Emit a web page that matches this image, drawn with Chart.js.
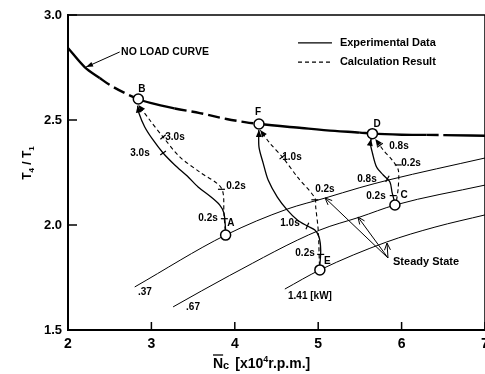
<!DOCTYPE html>
<html>
<head>
<meta charset="utf-8">
<script src="https://cdn.jsdelivr.net/npm/chart.js@4.4.1/dist/chart.umd.min.js"></script>
<style>
  html, body { margin: 0; padding: 0; background: #fff; overflow: hidden; }
  #wrap { width: 500px; height: 374px; }
</style>
</head>
<body>
<div id="wrap"><canvas id="chart" width="500" height="374"></canvas></div>
<script>
'use strict';

/* ── Data ───────────────────────────────────────────────────────── */
const xTicks = [2, 3, 4, 5, 6, 7];
const yTicks = [1.5, 2.0, 2.5, 3.0];

// no load curve
const noLoadX = [2.0, 2.2, 2.38, 2.5, 2.84, 3.0, 3.28, 3.58, 3.9, 4.12, 4.29, 4.8, 5.2, 5.5, 5.65, 6.0, 6.3, 6.5, 7.0];
const noLoadY = [2.843, 2.752, 2.70, 2.667, 2.60, 2.58, 2.555, 2.533, 2.505, 2.49, 2.481, 2.462, 2.448, 2.44, 2.435, 2.43, 2.429, 2.428, 2.425];

// steady state lines (load in kW)
const s37X = [2.80, 3.89, 4.63, 5.08, 5.50, 5.84, 7.0];
const s37Y = [1.705, 1.952, 2.076, 2.128, 2.178, 2.214, 2.319];
const s67X = [3.26, 3.94, 5.02, 5.50, 5.92, 7.0];
const s67Y = [1.610, 1.760, 1.976, 2.038, 2.095, 2.19];
const s141X = [4.60, 5.02, 5.82, 6.4, 7.0];
const s141Y = [1.695, 1.786, 1.919, 1.99, 2.048];

// operating points
const ptNames = ['A', 'B', 'C', 'D', 'E', 'F'];
const ptX = [3.89, 2.843, 5.92, 5.65, 5.02, 4.29];
const ptY = [1.952, 2.60, 2.095, 2.435, 1.786, 2.481];

// transients : experimental (solid) and calculation (dashed)
const abExpX  = [3.89, 3.87, 3.82, 3.70, 3.56, 3.43, 3.28, 3.14, 3.02, 2.92, 2.85, 2.835];
const abExpY  = [1.975, 2.057, 2.095, 2.138, 2.181, 2.233, 2.286, 2.343, 2.405, 2.467, 2.533, 2.568];
const abCalcX = [3.885, 3.87, 3.84, 3.58, 3.34, 3.14, 2.98, 2.845];
const abCalcY = [1.975, 2.05, 2.175, 2.252, 2.324, 2.419, 2.50, 2.572];

const efExpX  = [5.02, 5.03, 5.01, 4.96, 4.87, 4.75, 4.63, 4.51, 4.40, 4.34, 4.29, 4.288];
const efExpY  = [1.808, 1.881, 1.943, 1.976, 1.995, 2.024, 2.071, 2.133, 2.214, 2.295, 2.371, 2.452];
const efCalcX = [5.015, 5.0, 4.97, 4.96, 4.75, 4.57, 4.42, 4.305];
const efCalcY = [1.808, 1.976, 2.086, 2.129, 2.229, 2.324, 2.39, 2.452];

const cdExpX  = [5.91, 5.885, 5.86, 5.78, 5.70, 5.65, 5.625, 5.635];
const cdExpY  = [2.118, 2.157, 2.205, 2.238, 2.276, 2.343, 2.39, 2.41];
const cdCalcX = [5.94, 5.96, 5.96, 5.885, 5.78, 5.685];
const cdCalcY = [2.118, 2.18, 2.262, 2.31, 2.357, 2.41];

// time marks on the transients
const markX   = [3.875, 3.84, 3.14, 3.14, 5.03, 4.87, 4.96, 4.57, 5.90, 5.83, 5.96, 5.74];
const markY   = [2.03, 2.17, 2.343, 2.419, 1.86, 1.995, 2.12, 2.324, 2.14, 2.22, 2.286, 2.38];
const markRot = [0, 0, -36, -40, 0, -66, 0, -38, 0, -60, 0, -35];

/* ── Annotation text (data coords) ──────────────────────────────── */
const FONT = "'Liberation Sans', Arial, sans-serif";
const notes = [
  { t: 'B', x: 2.887, y: 2.648, a: 'center' },
  { t: 'F', x: 4.278, y: 2.538, a: 'center' },
  { t: 'D', x: 5.705, y: 2.481, a: 'center' },
  { t: 'A', x: 3.954, y: 2.01,  a: 'center' },
  { t: 'C', x: 6.03,  y: 2.143, a: 'center' },
  { t: 'E', x: 5.11,  y: 1.826, a: 'center' },
  { t: '3.0s', x: 3.283, y: 2.419, a: 'center' },
  { t: '3.0s', x: 2.863, y: 2.343, a: 'center' },
  { t: '0.2s', x: 4.014, y: 2.186, a: 'center' },
  { t: '0.2s', x: 3.679, y: 2.033, a: 'center' },
  { t: '1.0s', x: 4.686, y: 2.324, a: 'center' },
  { t: '0.2s', x: 5.08,  y: 2.171, a: 'center' },
  { t: '1.0s', x: 4.662, y: 2.01,  a: 'center' },
  { t: '0.2s', x: 4.842, y: 1.867, a: 'center' },
  { t: '0.8s', x: 5.969, y: 2.376, a: 'center' },
  { t: '0.2s', x: 6.113, y: 2.295, a: 'center' },
  { t: '0.8s', x: 5.585, y: 2.219, a: 'center' },
  { t: '0.2s', x: 5.693, y: 2.138, a: 'center' },
  { t: '.37',  x: 2.923, y: 1.681, a: 'center' },
  { t: '.67',  x: 3.499, y: 1.61,  a: 'center' },
  { t: '1.41 [kW]', x: 4.638, y: 1.662, a: 'left' },
];

/* ── Helpers ────────────────────────────────────────────────────── */
const pts = (xs, ys) => xs.map((v, i) => ({ x: v, y: ys[i] }));
const noLoadDashed = [[2.38, 2.84], [3.28, 4.29], [5.5, 5.65], [6.3, 6.5]];

function curve(xs, ys, dashed, arrow) {
  return {
    data: pts(xs, ys), showLine: true, pointRadius: 0, borderColor: '#000',
    borderWidth: dashed ? 1.1 : 1.3, borderDash: dashed ? [4, 3] : [],
    tension: 0.3, order: 2, arrow: arrow,
  };
}
function steady(xs, ys) {
  return {
    data: pts(xs, ys), showLine: true, pointRadius: 0, borderColor: '#000',
    borderWidth: 1, cubicInterpolationMode: 'monotone', order: 3,
  };
}

function arrowHead(ctx, x0, y0, x1, y1, len, wid, filled) {
  const ang = Math.atan2(y1 - y0, x1 - x0);
  const bx = x1 - len * Math.cos(ang), by = y1 - len * Math.sin(ang);
  const nx = -Math.sin(ang) * wid, ny = Math.cos(ang) * wid;
  ctx.beginPath();
  ctx.moveTo(bx + nx, by + ny);
  ctx.lineTo(x1, y1);
  ctx.lineTo(bx - nx, by - ny);
  if (filled) { ctx.closePath(); ctx.fill(); } else ctx.stroke();
}

function pieces(ctx, x, y, parts) {
  // parts: [text, size, dy]
  parts.forEach(([t, size, dy]) => {
    ctx.font = `bold ${size}px ${FONT}`;
    ctx.fillText(t, x, y + dy);
    x += ctx.measureText(t).width;
  });
  return x;
}

/* ── Overlay plugin: frame, inward ticks, arrows, text ──────────── */
const overlay = {
  id: 'overlay',
  beforeDatasetsDraw(chart) {
    const { ctx, chartArea: a, scales: { x, y } } = chart;
    ctx.save();
    ctx.strokeStyle = '#000';
    ctx.lineWidth = 1.5;
    ctx.beginPath();
    ctx.moveTo(a.left, a.top); ctx.lineTo(a.right, a.top); ctx.lineTo(a.right, a.bottom);
    ctx.stroke();
    xTicks.forEach(v => {
      const px = x.getPixelForValue(v);
      ctx.beginPath(); ctx.moveTo(px, a.bottom); ctx.lineTo(px, a.bottom - 8); ctx.stroke();
    });
    yTicks.forEach(v => {
      const py = y.getPixelForValue(v);
      ctx.beginPath(); ctx.moveTo(a.left, py); ctx.lineTo(a.left + 9, py); ctx.stroke();
    });
    ctx.restore();
  },
  afterDatasetsDraw(chart) {
    const { ctx, scales: { x, y } } = chart;
    const X = v => x.getPixelForValue(v), Y = v => y.getPixelForValue(v);
    ctx.save();
    ctx.fillStyle = '#000';
    ctx.strokeStyle = '#000';

    // arrowheads at the end of the transients
    chart.data.datasets.forEach((ds, i) => {
      if (!ds.arrow) return;
      const els = chart.getDatasetMeta(i).data;
      const last = els[els.length - 1];
      const prev = els[els.length - 2];
      const fx = last.cp1x !== undefined ? last.cp1x : prev.x;
      const fy = last.cp1y !== undefined ? last.cp1y : prev.y;
      arrowHead(ctx, fx, fy, last.x, last.y, 7, 3, true);
    });

    // steady state pointers
    ctx.lineWidth = 1;
    const apex = { x: 5.837, y: 1.843 };
    [[5.082, 2.129], [5.477, 2.038], [5.825, 1.914]].forEach(([tx, ty]) => {
      ctx.beginPath(); ctx.moveTo(X(apex.x), Y(apex.y)); ctx.lineTo(X(tx), Y(ty)); ctx.stroke();
      arrowHead(ctx, X(apex.x), Y(apex.y), X(tx), Y(ty), 7, 3, false);
    });
    ctx.font = `bold 11px ${FONT}`;
    ctx.textBaseline = 'middle';
    ctx.textAlign = 'left';
    ctx.fillText('Steady State', X(5.897), Y(1.824));

    // no load curve pointer
    ctx.beginPath(); ctx.moveTo(X(2.62), Y(2.824)); ctx.lineTo(X(2.216), Y(2.752)); ctx.stroke();
    arrowHead(ctx, X(2.62), Y(2.824), X(2.216), Y(2.752), 7, 2.5, true);
    ctx.font = `bold 10.5px ${FONT}`;
    ctx.fillText('NO LOAD CURVE', X(2.636), Y(2.824));

    // legend
    ctx.lineWidth = 1.2;
    ctx.beginPath(); ctx.moveTo(X(4.758), Y(2.867)); ctx.lineTo(X(5.165), Y(2.867)); ctx.stroke();
    ctx.setLineDash([4, 3]);
    ctx.beginPath(); ctx.moveTo(X(4.758), Y(2.776)); ctx.lineTo(X(5.165), Y(2.776)); ctx.stroke();
    ctx.setLineDash([]);
    ctx.font = `bold 11px ${FONT}`;
    ctx.fillText('Experimental Data', X(5.26), Y(2.867));
    ctx.fillText('Calculation Result', X(5.26), Y(2.776));

    // point names and time labels
    ctx.font = `bold 10px ${FONT}`;
    notes.forEach(n => {
      ctx.textAlign = n.a;
      ctx.fillText(n.t, X(n.x), Y(n.y));
    });

    // axis titles
    ctx.textAlign = 'left';
    ctx.textBaseline = 'alphabetic';
    const bx = 213, by = 368;
    const endN = pieces(ctx, bx, by, [['N', 14, 0]]);
    ctx.lineWidth = 1.3;
    ctx.beginPath(); ctx.moveTo(bx, by - 13); ctx.lineTo(endN, by - 13); ctx.stroke();
    const endC = pieces(ctx, endN, by, [['c', 11, 1]]);
    pieces(ctx, endC + 6, by, [['[x10', 14, 0], ['4', 9, -6], ['r.p.m.]', 14, 0]]);

    ctx.translate(27, 163);
    ctx.rotate(-Math.PI / 2);
    const parts = [['T', 12, 0], ['4', 8, 3], [' / ', 12, 0], ['T', 12, 0], ['1', 8, 3]];
    let w = 0;
    parts.forEach(([t, s]) => { ctx.font = `bold ${s}px ${FONT}`; w += ctx.measureText(t).width; });
    pieces(ctx, -w / 2, 4, parts);
    ctx.restore();
  }
};

/* ── Chart ──────────────────────────────────────────────────────── */
new Chart(document.getElementById('chart'), {
  type: 'scatter',
  data: {
    datasets: [
      {
        data: pts(noLoadX, noLoadY), showLine: true, pointRadius: 0, borderColor: '#000',
        borderWidth: 2.4, cubicInterpolationMode: 'monotone', order: 2,
        segment: {
          borderDash: c => {
            const m = (c.p0.parsed.x + c.p1.parsed.x) / 2;
            return noLoadDashed.some(([a, b]) => m > a && m < b) ? [12, 5] : [];
          }
        }
      },
      steady(s37X, s37Y),
      steady(s67X, s67Y),
      steady(s141X, s141Y),
      curve(abExpX, abExpY, false, true),
      curve(abCalcX, abCalcY, true, true),
      curve(efExpX, efExpY, false, true),
      curve(efCalcX, efCalcY, true, true),
      curve(cdExpX, cdExpY, false, true),
      curve(cdCalcX, cdCalcY, true, true),
      {
        data: pts(markX, markY), pointStyle: 'line', pointRadius: 3.5, rotation: markRot,
        borderColor: '#000', borderWidth: 1.2, showLine: false, order: 1,
      },
      {
        data: pts(ptX, ptY), pointStyle: 'circle', pointRadius: 5, borderWidth: 1.5,
        borderColor: '#000', backgroundColor: '#fff', showLine: false, order: 0,
      },
    ]
  },
  options: {
    responsive: false,
    devicePixelRatio: 1,
    animation: false,
    layout: { padding: { top: 15, right: 15, left: 0, bottom: 0 } },
    plugins: { legend: { display: false }, tooltip: { enabled: false } },
    scales: {
      x: {
        type: 'linear', min: 2, max: 7,
        afterBuildTicks: s => { s.ticks = xTicks.map(v => ({ value: v })); },
        afterFit: s => { s.height = 44; },
        grid: { display: false, drawTicks: false },
        border: { display: true, width: 2, color: '#000' },
        ticks: { color: '#000', padding: 6, font: { family: FONT, size: 14, weight: 'bold' }, callback: v => String(v) },
      },
      y: {
        type: 'linear', min: 1.5, max: 3.0,
        afterBuildTicks: s => { s.ticks = yTicks.map(v => ({ value: v })); },
        afterFit: s => { s.width = 68; },
        grid: { display: false, drawTicks: false },
        border: { display: true, width: 2, color: '#000' },
        ticks: { color: '#000', padding: 6, font: { family: FONT, size: 13, weight: 'bold' }, callback: v => v.toFixed(1) },
      }
    }
  },
  plugins: [overlay]
});
</script>
</body>
</html>
